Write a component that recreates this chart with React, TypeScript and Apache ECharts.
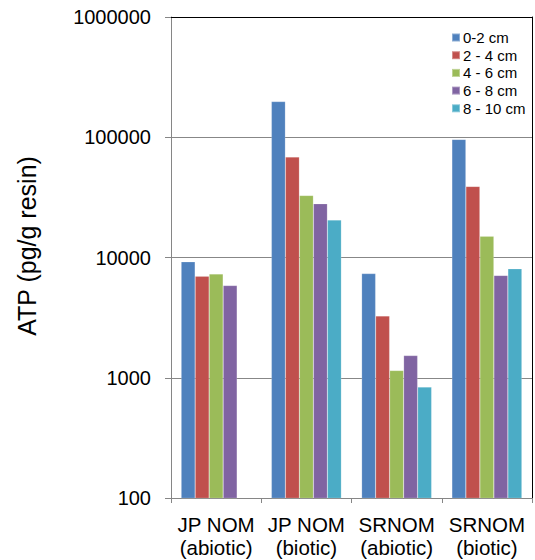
import React, { useEffect, useRef } from "react";
import * as echarts from "echarts";

const categories = ["JP NOM\n(abiotic)", "JP NOM\n(biotic)", "SRNOM\n(abiotic)", "SRNOM\n(biotic)"];
const seriesNames = ["0-2 cm", "2 - 4 cm", "4 - 6 cm", "6 - 8 cm", "8 - 10 cm"];
const depth0to2 = [9200, 198000, 7350, 96000];
const depth2to4 = [7000, 68500, 3270, 39000];
const depth4to6 = [7300, 32800, 1150, 15000];
const depth6to8 = [5850, 28000, 1530, 7100];
const depth8to10: (number | string)[] = ["-", 20500, 836, 8050];
const colors = ["#4F81BD", "#C0504D", "#9BBB59", "#8064A2", "#4BACC6"];
const yTickMin = 100;
const yTickMax = 1000000;
const yTitle = "ATP (pg/g resin)";

export default function App() {
  const ref = useRef<HTMLDivElement>(null);
  useEffect(() => {
    if (!ref.current) return;
    const chart = echarts.init(ref.current, undefined, { renderer: "svg" });
    const allData = [depth0to2, depth2to4, depth4to6, depth6to8, depth8to10];
    const font = "'Liberation Sans', Arial, sans-serif";
    chart.setOption({
      animation: false,
      backgroundColor: "#ffffff",
      grid: { left: 171, right: 3, top: 17, bottom: 62, containLabel: false },
      legend: {
        orient: "vertical",
        left: 446,
        top: 25,
        itemWidth: 8,
        itemHeight: 8,
        itemGap: 2.7,
        icon: "rect",
        data: seriesNames,
        textStyle: { fontFamily: font, fontSize: 15, lineHeight: 14, color: "#000", padding: [0, 0, 0, -2] },
      },
      xAxis: [
        {
          type: "category",
          data: categories,
          position: "bottom",
          axisLine: { show: true, lineStyle: { color: "#868686", width: 1 } },
          axisTick: { show: true, length: 5, lineStyle: { color: "#868686" } },
          axisLabel: { fontFamily: font, fontSize: 20.5, lineHeight: 23, color: "#000", margin: 15, interval: 0 },
          splitLine: { show: false },
        },
        {
          type: "category",
          data: categories,
          position: "top",
          axisLine: { show: true, lineStyle: { color: "#000", width: 1 } },
          axisTick: { show: false },
          axisLabel: { show: false },
          splitLine: { show: false },
        },
      ],
      yAxis: [
        {
          type: "log",
          logBase: 10,
          min: yTickMin,
          max: yTickMax,
          axisLine: { show: true, lineStyle: { color: "#868686", width: 1 } },
          axisTick: { show: true, length: 6, inside: false, lineStyle: { color: "#868686" } },
          axisLabel: {
            fontFamily: font,
            fontSize: 20,
            color: "#000",
            margin: 20,
            formatter: (v: number) => String(Math.round(v)),
          },
          splitLine: { show: true, lineStyle: { color: "#878787", width: 1 } },
        },
        {
          type: "log",
          logBase: 10,
          min: yTickMin,
          max: yTickMax,
          position: "right",
          axisLine: { show: true, lineStyle: { color: "#000", width: 1 } },
          axisTick: { show: false },
          axisLabel: { show: false },
          splitLine: { show: false },
        },
      ],
      graphic: [
        {
          type: "text",
          x: 27,
          y: 246,
          rotation: Math.PI / 2,
          style: {
            text: yTitle,
            fontFamily: font,
            fontSize: 25,
            fill: "#000",
            textAlign: "center",
            textVerticalAlign: "middle",
          },
        },
      ],
      series: seriesNames.map((name, i) => ({
        name,
        type: "bar",
        xAxisIndex: 0,
        yAxisIndex: 0,
        data: allData[i],
        barWidth: 14,
        barGap: "0%",
        itemStyle: { color: colors[i], borderColor: "rgba(255,255,255,0.35)", borderWidth: 0.5 },
      })),
    });
    return () => chart.dispose();
  }, []);
  return <div ref={ref} style={{ position: "absolute", left: 0, top: 0, width: 535, height: 560 }} />;
}
